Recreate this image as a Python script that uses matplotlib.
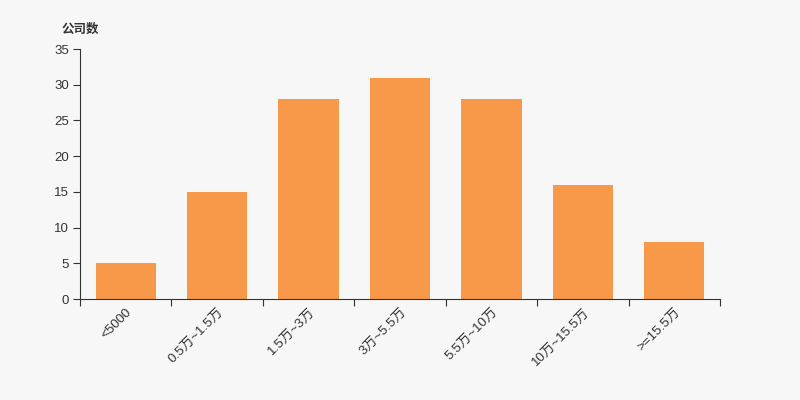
import matplotlib
matplotlib.use("Agg")
import matplotlib.pyplot as plt
import numpy as np

categories = ["<5000", "0.5万~1.5万", "1.5万~3万", "3万~5.5万", "5.5万~10万", "10万~15.5万", ">=15.5万"]
counts = [5, 15, 28, 31, 28, 16, 8]

plt.rcParams['font.family'] = ['Liberation Sans', 'Noto Sans CJK SC', 'DejaVu Sans']

bg = '#f7f7f7'
fig = plt.figure(figsize=(8, 4), dpi=100, facecolor=bg)
ax = fig.add_axes([0.1, 0.2525, 0.8, 0.625], facecolor=bg)

x = np.arange(len(categories))
ax.bar(x, counts, width=0.66, color='#f8994a')

ax.set_xlim(-0.5, len(categories) - 0.5)
ax.set_ylim(0, 35)
ax.set_yticks(range(0, 36, 5))

# ticks on category boundaries, labels in the middle
ax.set_xticks(np.arange(-0.5, len(categories), 1.0))
ax.set_xticklabels([])
ax.set_xticks(x, minor=True)
ax.set_xticklabels(categories, minor=True, rotation=45, ha='right',
                   rotation_mode='anchor', fontsize=9.6, color='#333333')
ax.tick_params(axis='x', which='minor', length=0, pad=5)
ax.tick_params(axis='x', which='major', length=5, color='#333333')
ax.tick_params(axis='y', length=5, color='#333333', labelsize=9.5, labelcolor='#333333', pad=3)

for s in ['top', 'right']:
    ax.spines[s].set_visible(False)
for s in ['left', 'bottom']:
    ax.spines[s].set_color('#333333')

fig.text(0.0775, 0.918, '公司数', fontsize=9, fontweight='bold', color='#333333')

fig.savefig('out.png', dpi=100, facecolor=bg)
